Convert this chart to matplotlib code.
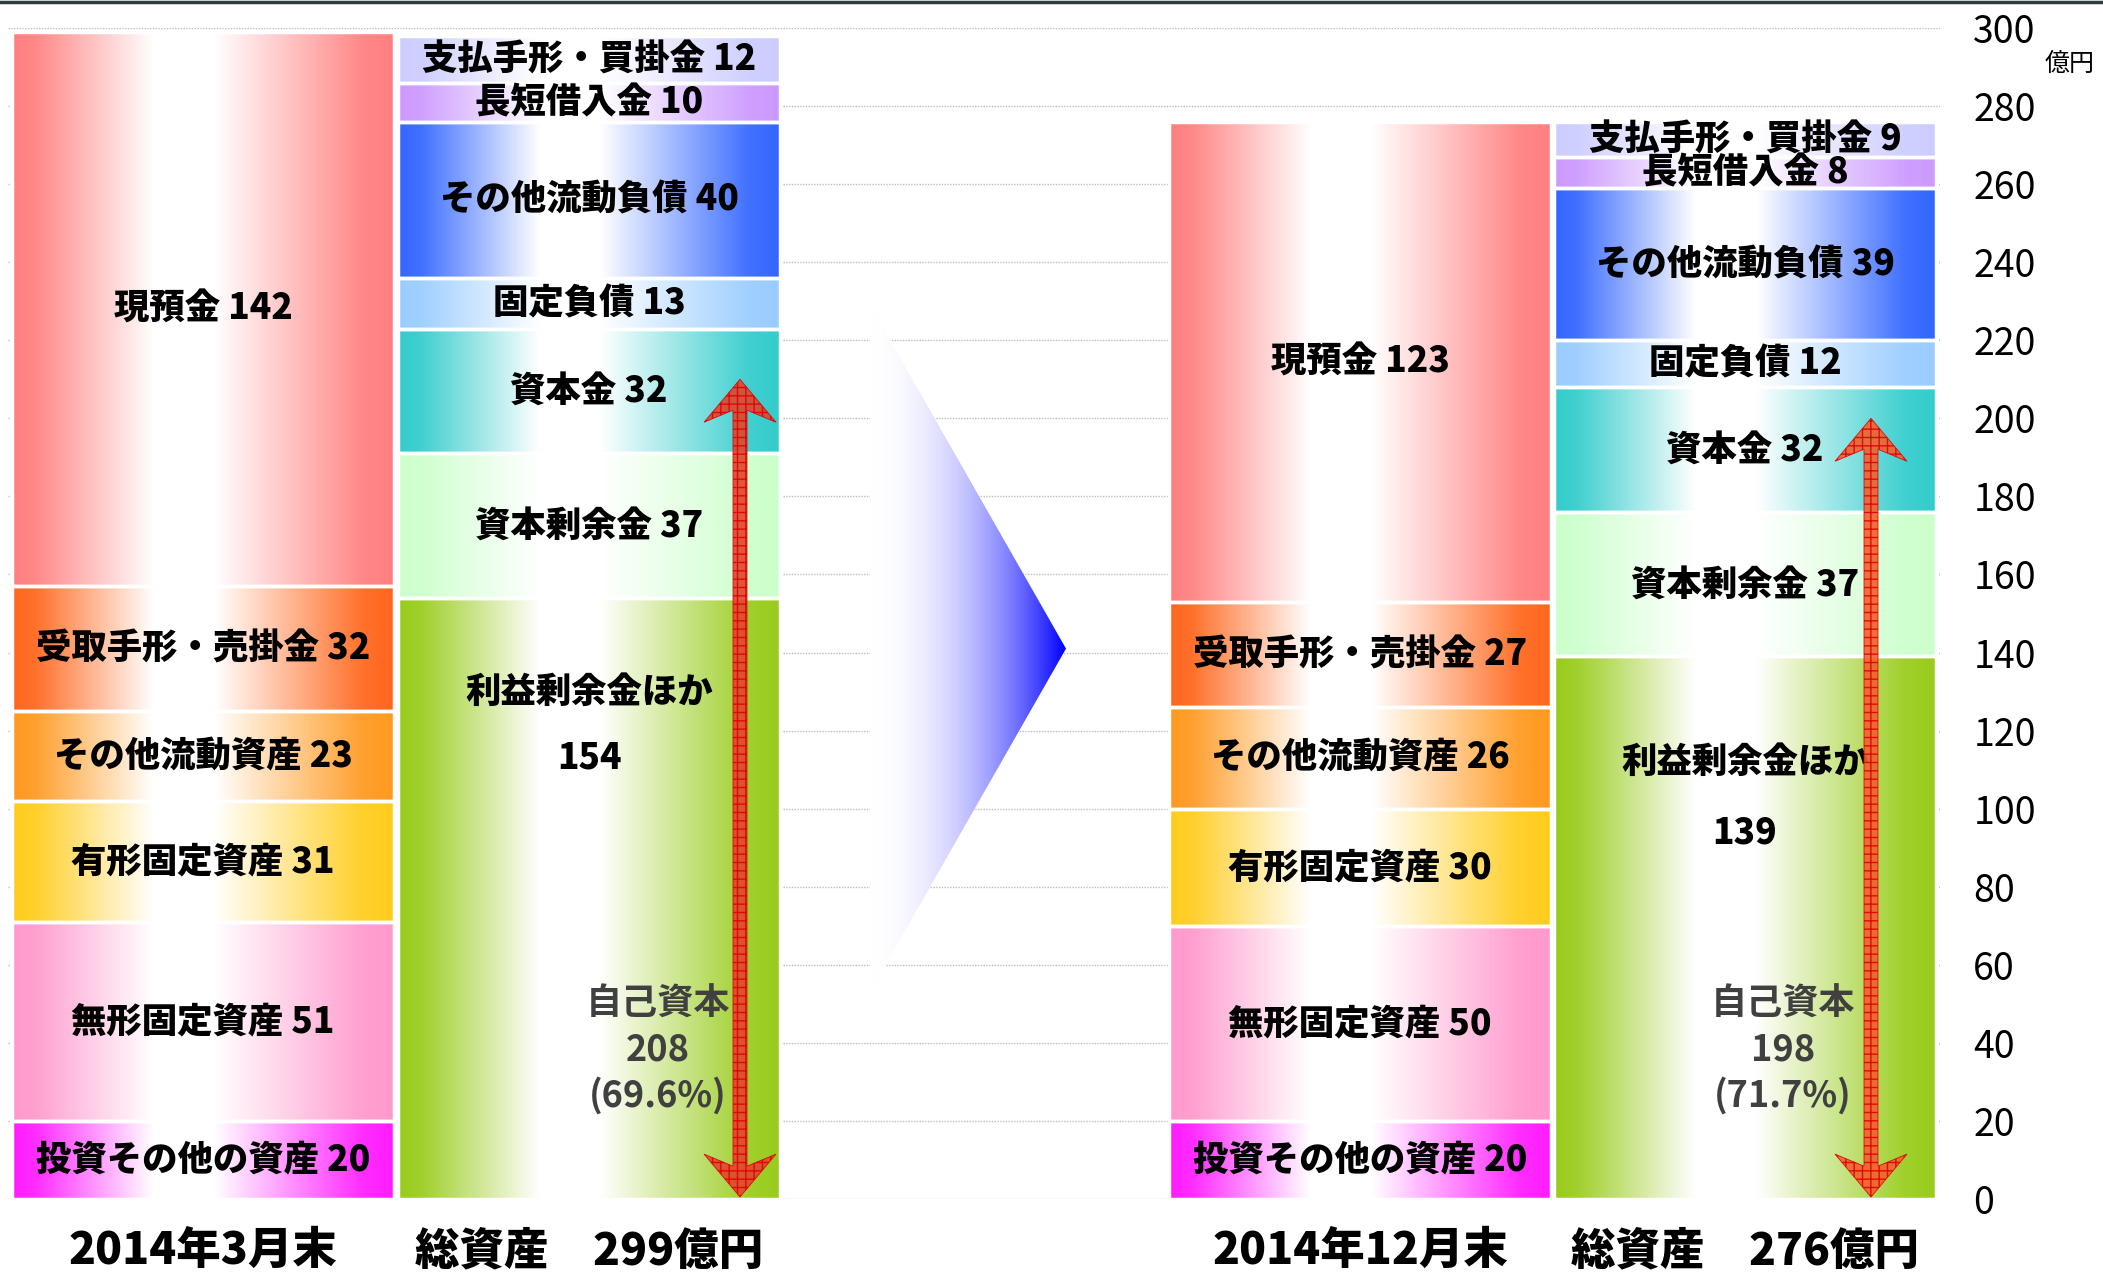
import numpy as np
import matplotlib
matplotlib.use("Agg")
import matplotlib.pyplot as plt
from matplotlib.patches import Rectangle, Polygon
from matplotlib.lines import Line2D
from matplotlib.colors import to_rgb

plt.rcParams['font.family'] = ['Noto Sans CJK JP', 'DejaVu Sans']

# Data (億円)
periods = ["2014年3月末", "2014年12月末"]
total_assets = [299, 276]

asset_names = ["投資その他の資産", "無形固定資産", "有形固定資産", "その他流動資産",
               "受取手形・売掛金", "現預金"]
assets_mar = [20, 51, 31, 23, 32, 142]
assets_dec = [20, 50, 30, 26, 27, 123]
asset_colors = ["#FF1CFF", "#FF99CC", "#FFCC1C", "#FF991F", "#FF661C", "#FF7F7F"]

liab_names = ["利益剰余金ほか", "資本剰余金", "資本金", "固定負債",
              "その他流動負債", "長短借入金", "支払手形・買掛金"]
liab_mar = [154, 37, 32, 13, 40, 10, 12]
liab_dec = [139, 37, 32, 12, 39, 8, 9]
liab_colors = ["#99CC1C", "#CCFFCC", "#33CCCC", "#99CCFF", "#3366FF", "#CC99FF", "#CCCCFF"]

equity = [208, 198]
equity_ratio = [69.6, 71.7]

yticks = list(range(0, 301, 20))

# layout (x in pixel-like units)
W, H = 2103, 1275
bar_w = 382
asset_x = [12, 1169]
liab_x = [398, 1554]
arrow_x = [740, 1871]
arrow_fc = ["#E0452C", "#F2602E"]
eq_label_pos = [0.68, 0.60]      # fraction across the bar
re_label_off = [(24, 41), (27, 45)]  # below the top of 利益剰余金ほか
LABEL_W = "heavy"


def grad_image(color, n=300):
    t = np.linspace(0, 1, n)
    w = np.interp(t, [0, 0.06, 0.37, 0.53, 0.92, 1], [1, 0.93, 0, 0, 0.93, 1])
    c = np.array(to_rgb(color))
    rgb = (1 - w)[:, None] * np.ones(3) + w[:, None] * c
    return rgb[None, :, :]


fig = plt.figure(figsize=(W / 100, H / 100), dpi=100)
ax = fig.add_axes([8 / W, (H - 1199) / H, (1940 - 8) / W, (1199 - 28) / H])

for y in yticks:
    ax.axhline(y, color="#BDBDBD", lw=1, ls=(0, (1, 1)), zorder=0)


def draw_stack(x0, values, names, colors, skip_label=None):
    bottom = 0
    for v, name, col in zip(values, names, colors):
        ax.imshow(grad_image(col), extent=[x0, x0 + bar_w, bottom, bottom + v],
                  aspect="auto", interpolation="bilinear", zorder=2)
        ax.add_patch(Rectangle((x0, bottom), bar_w, v, fill=False,
                               edgecolor="white", lw=2.5, zorder=3))
        if name != skip_label:
            ax.text(x0 + bar_w / 2, bottom + v / 2, f"{name} {v}", ha="center",
                    va="center", fontsize=25.5, fontweight=LABEL_W, color="black", zorder=4)
        bottom += v
    return bottom


asset_sets = [assets_mar, assets_dec]
liab_sets = [liab_mar, liab_dec]

for i in range(2):
    draw_stack(asset_x[i], asset_sets[i], asset_names, asset_colors)
    top = liab_sets[i][0]
    draw_stack(liab_x[i], liab_sets[i], liab_names, liab_colors, skip_label=liab_names[0])
    cx = liab_x[i] + bar_w / 2
    ax.text(cx, top - re_label_off[i][0], liab_names[0], ha="center", va="center",
            fontsize=25.5, fontweight=LABEL_W, zorder=4)
    ax.text(cx, top - re_label_off[i][1], str(top), ha="center", va="center",
            fontsize=25.5, fontweight=LABEL_W, zorder=4)

    # equity label
    ex = liab_x[i] + bar_w * eq_label_pos[i]
    for k, s in enumerate(["自己資本", str(equity[i]), f"({equity_ratio[i]}%)"]):
        ax.text(ex, 50 - k * 11.8, s, ha="center", va="center", fontsize=26,
                fontweight="bold", color="#404040", zorder=4)

    # double headed arrow
    c = arrow_x[i]
    y0, y1 = 0.5, equity[i] + 2
    hl, hw, sw = 11, 36, 7
    pts = [(c, y1), (c + hw, y1 - hl), (c + sw, y1 - 0.72 * hl),
           (c + sw, y0 + 0.72 * hl), (c + hw, y0 + hl), (c, y0),
           (c - hw, y0 + hl), (c - sw, y0 + 0.72 * hl),
           (c - sw, y1 - 0.72 * hl), (c - hw, y1 - hl)]
    ax.add_patch(Polygon(pts, closed=True, facecolor=arrow_fc[i], edgecolor="#E00000",
                         hatch="++", lw=0.6, alpha=0.9, zorder=5))

    # bottom captions
    ax.text(asset_x[i] + bar_w / 2, -13.2, periods[i], ha="center", va="center",
            fontsize=32, fontweight=LABEL_W, clip_on=False)
    ax.text(liab_x[i] + bar_w / 2, -13.2, f"総資産　{total_assets[i]}億円", ha="center",
            va="center", fontsize=32, fontweight=LABEL_W, clip_on=False)

# big transition arrow
tri_pts = [(870, 229), (1066, 141), (870, 53)]
tri = Polygon(tri_pts, closed=True, facecolor="none", edgecolor="none")
ax.add_patch(tri)
t = np.linspace(0, 1, 300) ** 2
tri_rgb = np.stack([1 - t, 1 - t, np.ones_like(t)], axis=1)[None, :, :]
im = ax.imshow(tri_rgb, extent=[870, 1066, 53, 229], aspect="auto",
               interpolation="bilinear", zorder=2)
im.set_clip_path(tri)

ax.set_xlim(8, 1940)
ax.set_ylim(0, 300)
ax.set_xticks([])
ax.yaxis.tick_right()
ax.set_yticks(yticks)
ax.tick_params(axis="y", length=0, pad=24, labelsize=27)
for s in ax.spines.values():
    s.set_visible(False)

fig.text(2070 / W, 1 - 64 / H, "億円", ha="center", va="center", fontsize=18)
fig.add_artist(Line2D([0, 1], [1 - 2 / H, 1 - 2 / H], color="#2E3B40", lw=2.5))

fig.savefig("out.png", dpi=100)
